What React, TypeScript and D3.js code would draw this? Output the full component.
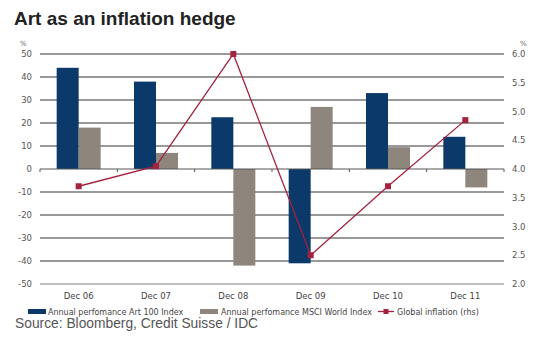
import React, { useRef, useEffect } from 'react';
import { select, scaleBand, scaleLinear, line, range } from 'd3';

const categories = ['Dec 06', 'Dec 07', 'Dec 08', 'Dec 09', 'Dec 10', 'Dec 11'];
const artIndex = [44, 38, 22.5, -41, 33, 14];
const msciIndex = [18, 7, -42, 27, 9.5, -8];
const inflation = [3.7, 4.05, 6.0, 2.5, 3.7, 4.85];
const leftTicks = [50, 40, 30, 20, 10, 0, -10, -20, -30, -40, -50];
const rightTicks = [6.0, 5.5, 5.0, 4.5, 4.0, 3.5, 3.0, 2.5, 2.0];

const W = 550;
const H = 352;
const left = 40;
const right = 504;
const top = 54;
const bottom = 284;

const App = () => {
  const svgRef = useRef(null);

  useEffect(() => {
    const svg = select(svgRef.current);
    svg.selectAll('*').remove();

    const x = scaleBand().domain(categories).range([left, right]);
    const yL = scaleLinear().domain([-50, 50]).range([bottom, top]);
    const yR = scaleLinear().domain([2, 6]).range([bottom, top]);
    const bw = 22;
    const font = 'Liberation Sans, Arial, sans-serif';
    const small = 'DejaVu Sans, sans-serif';

    // title
    svg
      .append('text')
      .attr('x', 14)
      .attr('y', 25)
      .attr('font-family', font)
      .attr('font-weight', 'bold')
      .attr('font-size', 19)
      .attr('fill', '#222')
      .text('Art as an inflation hedge');

    // gridlines
    svg
      .append('g')
      .selectAll('line')
      .data(leftTicks.filter((d) => d !== 0))
      .join('line')
      .attr('x1', left)
      .attr('x2', right)
      .attr('y1', (d) => yL(d))
      .attr('y2', (d) => yL(d))
      .attr('stroke', (d) => (d === -50 ? '#aaa' : '#777'))
      .attr('stroke-width', 1.3);

    // left axis labels
    svg
      .append('g')
      .selectAll('text')
      .data(leftTicks)
      .join('text')
      .attr('x', 32)
      .attr('y', (d) => yL(d) + 3)
      .attr('text-anchor', 'end')
      .attr('font-family', small)
      .attr('font-size', 8.5)
      .attr('fill', '#555')
      .text((d) => (d < 0 ? '-' + Math.abs(d) : String(d)));
    svg
      .append('text')
      .attr('x', 20)
      .attr('y', 46)
      .attr('font-family', small)
      .attr('font-size', 7)
      .attr('fill', '#666')
      .text('%');

    // right axis labels
    svg
      .append('g')
      .selectAll('text')
      .data(rightTicks)
      .join('text')
      .attr('x', 512)
      .attr('y', (d) => yR(d) + 3)
      .attr('font-family', small)
      .attr('font-size', 8.5)
      .attr('fill', '#555')
      .text((d) => d.toFixed(1));
    svg
      .append('text')
      .attr('x', 520)
      .attr('y', 46)
      .attr('font-family', small)
      .attr('font-size', 7)
      .attr('fill', '#666')
      .text('%');

    // bars
    svg
      .append('g')
      .selectAll('rect')
      .data(artIndex)
      .join('rect')
      .attr('x', (d, i) => x(categories[i]) + x.bandwidth() / 2 - bw)
      .attr('y', (d) => yL(Math.max(0, d)))
      .attr('width', bw)
      .attr('height', (d) => Math.abs(yL(d) - yL(0)))
      .attr('fill', '#0b3a6a');
    svg
      .append('g')
      .selectAll('rect')
      .data(msciIndex)
      .join('rect')
      .attr('x', (d, i) => x(categories[i]) + x.bandwidth() / 2)
      .attr('y', (d) => yL(Math.max(0, d)))
      .attr('width', bw)
      .attr('height', (d) => Math.abs(yL(d) - yL(0)))
      .attr('fill', '#8e857c');

    // zero axis with ticks
    svg
      .append('line')
      .attr('x1', left)
      .attr('x2', right)
      .attr('y1', yL(0))
      .attr('y2', yL(0))
      .attr('stroke', '#555')
      .attr('stroke-width', 1);
    svg
      .append('g')
      .selectAll('line')
      .data(range(categories.length + 1))
      .join('line')
      .attr('x1', (i) => left + i * x.step())
      .attr('x2', (i) => left + i * x.step())
      .attr('y1', yL(0))
      .attr('y2', yL(0) + 3)
      .attr('stroke', '#555');

    // inflation line
    const pts = inflation.map((d, i) => [x(categories[i]) + x.bandwidth() / 2, yR(d)]);
    svg
      .append('path')
      .attr('d', line()(pts))
      .attr('fill', 'none')
      .attr('stroke', '#a3223f')
      .attr('stroke-width', 1.3);
    svg
      .append('g')
      .selectAll('rect')
      .data(pts)
      .join('rect')
      .attr('x', (d) => d[0] - 3)
      .attr('y', (d) => d[1] - 3)
      .attr('width', 6)
      .attr('height', 6)
      .attr('fill', '#a3223f');

    // category labels
    svg
      .append('g')
      .selectAll('text')
      .data(categories)
      .join('text')
      .attr('x', (d) => x(d) + x.bandwidth() / 2)
      .attr('y', 299)
      .attr('text-anchor', 'middle')
      .attr('font-family', small)
      .attr('font-size', 8.5)
      .attr('fill', '#444')
      .text((d) => d);

    // legend
    const lg = svg.append('g').attr('font-family', small).attr('font-size', 8).attr('fill', '#444');
    lg.append('rect').attr('x', 28).attr('y', 309).attr('width', 18).attr('height', 5).attr('fill', '#0b3a6a');
    lg.append('text').attr('x', 48).attr('y', 314.5).text('Annual perfomance Art 100 Index');
    lg.append('rect').attr('x', 200).attr('y', 309).attr('width', 18).attr('height', 5).attr('fill', '#8e857c');
    lg.append('text').attr('x', 221).attr('y', 314.5).text('Annual perfomance MSCI World Index');
    lg.append('line').attr('x1', 378).attr('x2', 394).attr('y1', 311.5).attr('y2', 311.5).attr('stroke', '#a3223f').attr('stroke-width', 1.3);
    lg.append('rect').attr('x', 383.5).attr('y', 309).attr('width', 5).attr('height', 5).attr('fill', '#a3223f');
    lg.append('text').attr('x', 397).attr('y', 314.5).text('Global inflation (rhs)');

    // source
    svg
      .append('text')
      .attr('x', 15)
      .attr('y', 328)
      .attr('font-family', font)
      .attr('font-size', 13.8)
      .attr('fill', '#555')
      .text('Source: Bloomberg, Credit Suisse / IDC');
  }, []);

  return (
    <svg
      ref={svgRef}
      width={W}
      height={H}
      style={{ position: 'absolute', left: 0, top: 0, background: '#fff' }}
    />
  );
};

export default App;
